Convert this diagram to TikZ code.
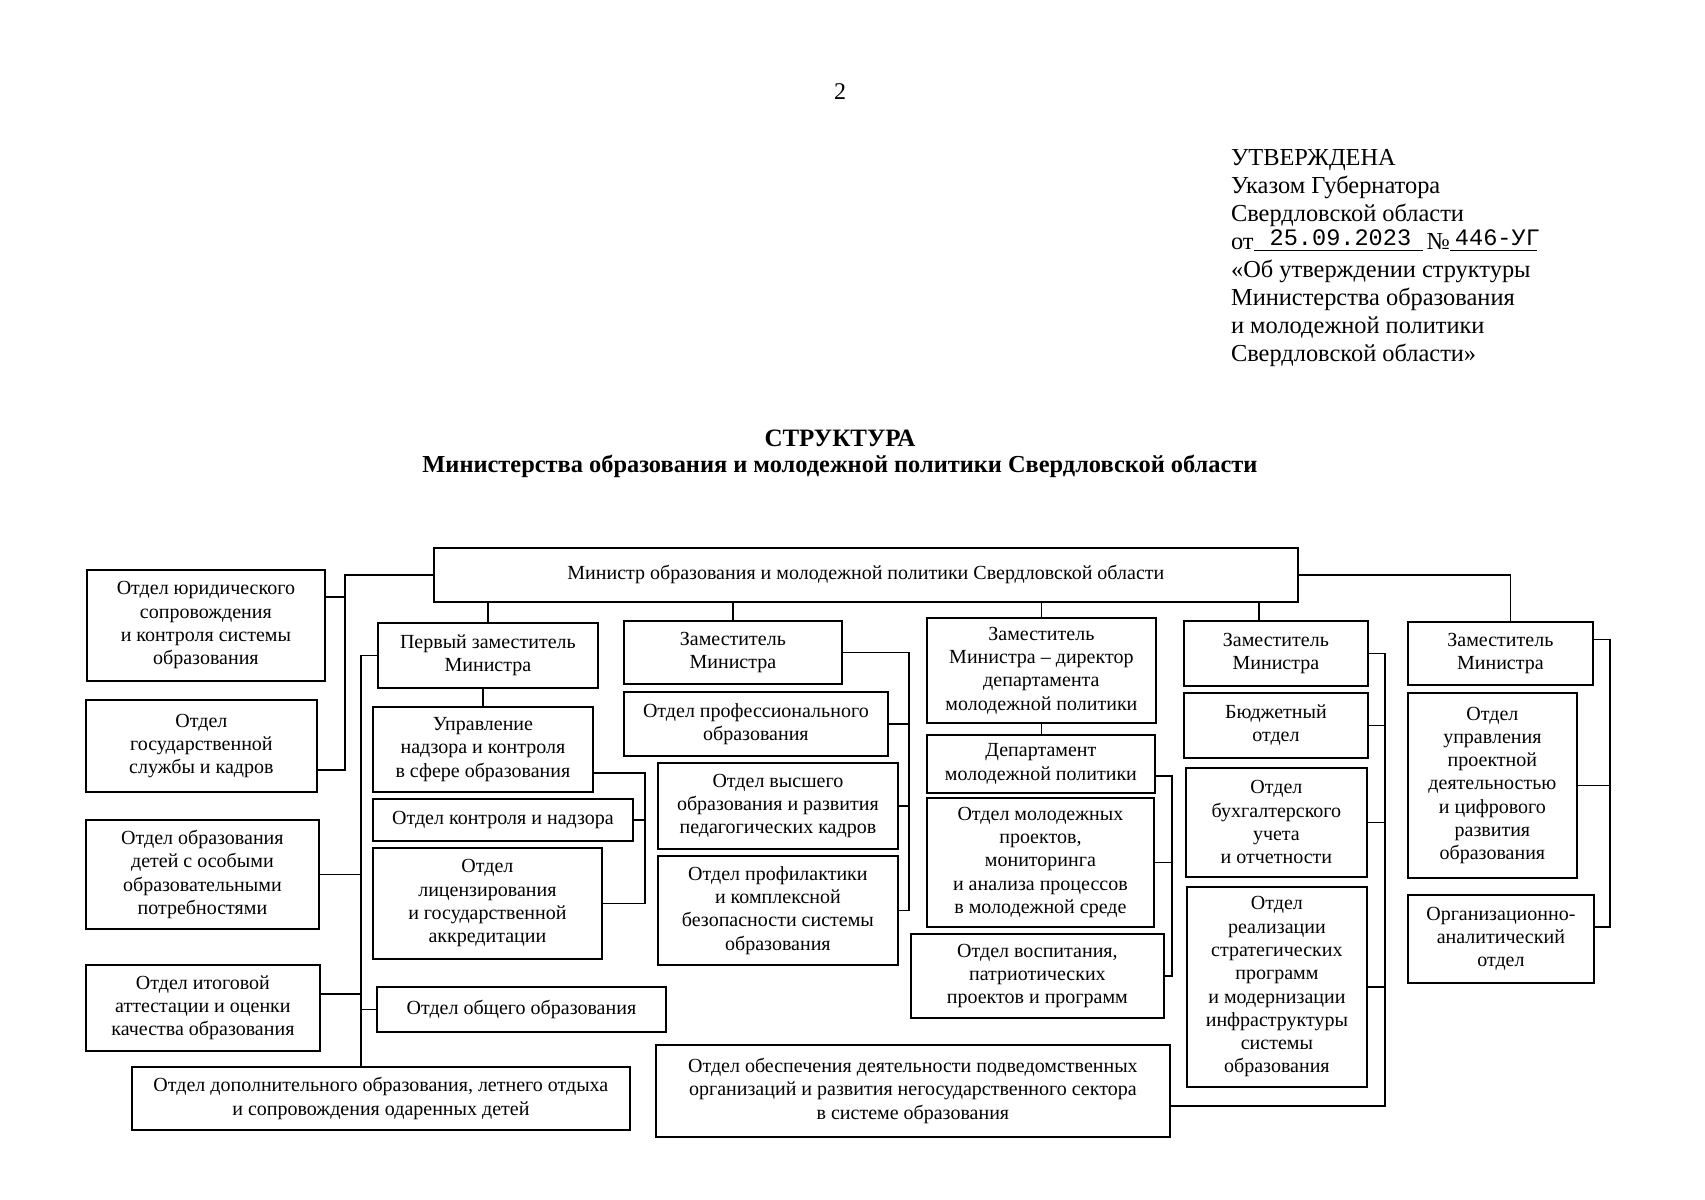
\documentclass[tikz,border=0pt]{standalone}
\usepackage{fontspec}
\setmainfont{Liberation Serif}
\newfontfamily\datefont{Liberation Mono}
\usepackage{tikz}
\newcommand{\headfont}{\fontsize{12.2}{13.95}\selectfont}
\newcommand{\unitfont}{\fontsize{10}{11.65}\selectfont}
% underlined blank of the order, filled in by hand
\newcommand{\fillin}[3]{\rlap{\rule[-1pt]{#1}{0.6pt}}\makebox[#1][l]{\hspace{#2}\smash{\raisebox{2.2pt}{\datefont\fontsize{11.8}{13}\selectfont #3}}}}
\tikzset{
    unit/.style={
           rectangle,
           draw=black, line width=0.9pt,
           anchor=north west,
           inner sep=2pt,
           align=center,
           font=\unitfont
           },
    link/.style={
           draw=black, line width=0.7pt
           },
}

\begin{document}
\begin{tikzpicture}[x=0.5pt,y=-0.5pt]
    \useasboundingbox (0,0) rectangle (1705,1200);

    \node[font=\fontsize{12}{14}\selectfont] (pageno) at (840,92) {2};
    % base of a multi-line node is its last line
    \node[anchor=base west, align=left, font=\headfont] (approved) at (1224,361)
        {УТВЕРЖДЕНА\\
         Указом Губернатора\\
         Свердловской области\\
         от\fillin{84.5pt}{8pt}{25.09.2023}\,№\fillin{43.5pt}{2.5pt}{446-УГ}\\
         «Об утверждении структуры\\
         Министерства образования\\
         и молодежной политики\\
         Свердловской области»};
    \node[font=\fontsize{12.5}{14}\selectfont\bfseries] (title) at (840,438) {СТРУКТУРА};
    \node[font=\fontsize{12.2}{15}\selectfont\bfseries] (subtitle) at (840,466)
        {Министерства образования и молодежной политики Свердловской области};

    % minister
    \node[unit, minimum width=432pt, minimum height=27pt] (min) at (433,547)
        {Министр образования и молодежной политики Свердловской области};

    % directly under the minister
    \node[unit, minimum width=119pt, minimum height=55.5pt] (jur) at (86,569)
        {Отдел юридического\\сопровождения\\и контроля системы\\образования};
    \node[unit, minimum width=115.5pt, minimum height=46pt] (gos) at (85,699)
        {Отдел\\государственной\\службы и кадров};

    % first deputy
    \node[unit, minimum width=110pt, minimum height=32.5pt] (fd) at (377,622)
        {Первый заместитель\\Министра};
    \node[unit, minimum width=110pt, minimum height=42.5pt] (upr) at (372,706)
        {Управление\\надзора и контроля\\в сфере образования};
    \node[unit, minimum width=130pt, minimum height=21pt] (kontr) at (372,798)
        {Отдел контроля и надзора};
    \node[unit, minimum width=114.5pt, minimum height=55.5pt] (lic) at (372,847)
        {Отдел\\лицензирования\\и государственной\\аккредитации};
    \node[unit, minimum width=144.5pt, minimum height=22.5pt] (obsh) at (376,986)
        {Отдел общего образования};
    \node[unit, minimum width=116.5pt, minimum height=54.5pt] (deti) at (85,819)
        {Отдел образования\\детей с особыми\\образовательными\\потребностями};
    \node[unit, minimum width=117pt, minimum height=43pt] (att) at (85,964)
        {Отдел итоговой\\аттестации и оценки\\качества образования};
    \node[unit, minimum width=249pt, minimum height=31.5pt] (dop) at (131,1066)
        {Отдел дополнительного образования, летнего отдыха\\и сопровождения одаренных детей};

    % deputy (professional education)
    \node[unit, minimum width=109pt, minimum height=31.5pt] (zam2) at (623,620)
        {Заместитель\\Министра};
    \node[unit, minimum width=132pt, minimum height=32pt] (prof) at (623,691)
        {Отдел профессионального\\образования};
    \node[unit, minimum width=120pt, minimum height=43pt] (vys) at (657,762)
        {Отдел высшего\\образования и развития\\педагогических кадров};
    \node[unit, minimum width=120pt, minimum height=54.5pt] (profil) at (657,855)
        {Отдел профилактики\\и комплексной\\безопасности системы\\образования};

    % deputy -- director of youth policy
    \node[unit, minimum width=114.5pt, minimum height=52.5pt] (zam3) at (926,617)
        {Заместитель\\Министра – директор\\департамента\\молодежной политики};
    \node[unit, minimum width=114pt, minimum height=29pt] (dept) at (926,734)
        {Департамент\\молодежной политики};
    \node[unit, minimum width=113.5pt, minimum height=64.5pt] (mol) at (926,797)
        {Отдел молодежных\\проектов,\\мониторинга\\и анализа процессов\\в молодежной среде};
    \node[unit, minimum width=126.5pt, minimum height=42pt] (vosp) at (910,933)
        {Отдел воспитания,\\патриотических\\проектов и программ};
    \node[unit, minimum width=257pt, minimum height=46pt] (obesp) at (655,1044)
        {Отдел обеспечения деятельности подведомственных\\организаций и развития негосударственного сектора\\в системе образования};

    % deputy (finance)
    \node[unit, minimum width=92pt, minimum height=32.5pt] (zam4) at (1183,620)
        {Заместитель\\Министра};
    \node[unit, minimum width=92pt, minimum height=32.5pt] (bud) at (1183,692)
        {Бюджетный\\отдел};
    \node[unit, minimum width=90.5pt, minimum height=54.5pt] (buh) at (1185,767)
        {Отдел\\бухгалтерского\\учета\\и отчетности};
    \node[unit, minimum width=90pt, minimum height=100pt] (real) at (1186,886)
        {Отдел\\реализации\\стратегических\\программ\\и модернизации\\инфраструктуры\\системы\\образования};

    % deputy (projects)
    \node[unit, minimum width=92.5pt, minimum height=31.5pt] (zam5) at (1407,621)
        {Заместитель\\Министра};
    \node[unit, minimum width=84.5pt, minimum height=92.5pt] (upravl) at (1407,692)
        {Отдел\\управления\\проектной\\деятельностью\\и цифрового\\развития\\образования};
    \node[unit, minimum width=93pt, minimum height=44pt] (org) at (1407,894)
        {Организационно-\\аналитический\\отдел};

    % buses
    \coordinate (lbus) at (345,571);
    \coordinate (fbus) at (361,654);
    \coordinate (ubus) at (645,771);
    \coordinate (bus2) at (909,652);
    \coordinate (dbus) at (1172,775);
    \coordinate (bus4) at (1385,650);
    \coordinate (bus5) at (1610,638);

    % minister
    \draw[link] (min.west) -| ([yshift=11.5pt]gos.south east -| lbus) -- ([yshift=11.5pt]gos.south east);
    \draw[link] ([yshift=-14pt]jur.north east) -- ([yshift=-14pt]jur.north east -| lbus);
    \draw[link] (min.south -| fd.north) -- (fd.north);
    \draw[link] (min.south -| zam2.north) -- (zam2.north);
    \draw[link] (min.south -| zam3.north) -- (zam3.north);
    \draw[link] ([xshift=-8.5pt]zam4.north |- min.south) -- ([xshift=-8.5pt]zam4.north);
    \draw[link] (min.east) -| ([xshift=5pt]zam5.north);

    % first deputy
    \draw[link] (fd.west) -| (dop.north -| fbus);
    \draw[link] (deti.east) -- (deti.east -| fbus);
    \draw[link] ([yshift=7pt]att.east) -- ([yshift=7pt]att.east -| fbus);
    \draw[link] (obsh.west) -- (obsh.west -| fbus);
    \draw[link] (fd.south -| upr.north) -- (upr.north);
    \draw[link] ([yshift=10pt]upr.south east) -| (lic.east -| ubus) -- (lic.east);
    \draw[link] (kontr.east) -- (kontr.east -| ubus);

    % deputy 2
    \draw[link] (zam2.east) -| (profil.east -| bus2) -- (profil.east);
    \draw[link] (prof.east) -- (prof.east -| bus2);
    \draw[link] (vys.east) -- (vys.east -| bus2);

    % deputy 3
    \draw[link] (zam3.south) -- (zam3.south |- dept.north);
    \draw[link] ([yshift=-6pt]dept.east) -| (vosp.east -| dbus) -- (vosp.east);
    \draw[link] (mol.east) -- (mol.east -| dbus);

    % deputy 4
    \draw[link] (zam4.east) -| ([yshift=-7.5pt]obesp.east -| bus4) -- ([yshift=-7.5pt]obesp.east);
    \draw[link] (bud.east) -- (bud.east -| bus4);
    \draw[link] (buh.east) -- (buh.east -| bus4);
    \draw[link] (real.east) -- (real.east -| bus4);

    % deputy 5
    \draw[link] ([yshift=7pt]zam5.east) -| ([yshift=6pt]org.east -| bus5) -- ([yshift=6pt]org.east);
    \draw[link] (upravl.east) -- (upravl.east -| bus5);
\end{tikzpicture}
\end{document}
